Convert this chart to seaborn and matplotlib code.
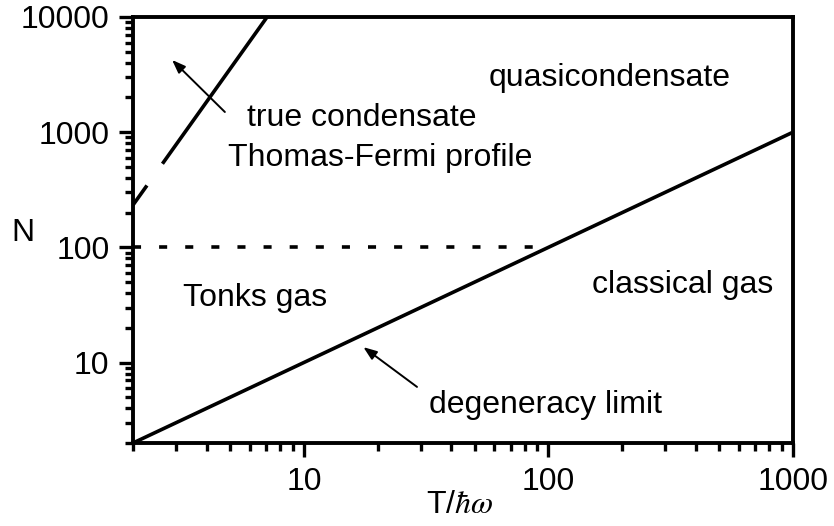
import numpy as np
import pandas as pd
import matplotlib
matplotlib.use("Agg")
import matplotlib.pyplot as plt
import matplotlib.ticker as mticker
import seaborn as sns

# ---- data ----
degen_T = [2, 1000]
degen_N = [2, 1000]
cond_T = [2, 7.07]
cond_N = [233, 10000]
tonks_T = [2, 100]
tonks_N = [100, 100]

x_ticks = [10, 100, 1000]
y_ticks = [10, 100, 1000, 10000]
x_lim = [2, 1000]
y_lim = [2, 10000]

region_labels = ["quasicondensate", "true condensate", "Thomas-Fermi profile",
                 "Tonks gas", "classical gas", "degeneracy limit"]
region_T = [178.6, 5.85, 20.5, 6.31, 355, 96.8]
region_N = [2953, 1328, 597, 36.4, 47.2, 4.29]
region_ha = ["center", "left", "center", "center", "center", "center"]

arrow_tip_T = [2.89, 17.5]
arrow_tip_N = [4236, 13.6]
arrow_tail_T = [4.75, 29.0]
arrow_tail_N = [1497, 6.14]

# ---- style ----
sns.set_theme(style="ticks")
plt.rcParams['font.family'] = ['Liberation Sans', 'DejaVu Sans']
plt.rcParams['mathtext.fontset'] = 'stix'
plt.rcParams['lines.scale_dashes'] = False
FS = 23

fig = plt.figure(figsize=(8.34, 5.26), dpi=100)
ax = fig.add_axes([133/834, 83/526, 660/834, 426/526])

lw = 2.6
df_deg = pd.DataFrame({"T": degen_T, "N": degen_N})
df_cond = pd.DataFrame({"T": cond_T, "N": cond_N})
df_tonks = pd.DataFrame({"T": tonks_T, "N": tonks_N})

sns.lineplot(data=df_deg, x="T", y="N", ax=ax, color="black", lw=lw)
sns.lineplot(data=df_cond, x="T", y="N", ax=ax, color="black", lw=lw)
ax.lines[-1].set_linestyle((0, (17.3, 19.2, 1000, 10)))
ax.lines[-1].set_dash_capstyle("butt")
sns.lineplot(data=df_tonks, x="T", y="N", ax=ax, color="black", lw=lw)
ax.lines[-1].set_linestyle((0, (5.8, 13.0)))

ax.set_xscale("log")
ax.set_yscale("log")
ax.set_xlim(*x_lim)
ax.set_ylim(*y_lim)

fmt = mticker.FuncFormatter(lambda v, _: f"{v:g}")
ax.xaxis.set_major_locator(mticker.FixedLocator(x_ticks))
ax.yaxis.set_major_locator(mticker.FixedLocator(y_ticks))
ax.xaxis.set_major_formatter(fmt)
ax.yaxis.set_major_formatter(fmt)
ax.xaxis.set_minor_locator(mticker.LogLocator(base=10, subs=np.arange(2, 10)))
ax.yaxis.set_minor_locator(mticker.LogLocator(base=10, subs=np.arange(2, 10)))
ax.xaxis.set_minor_formatter(mticker.NullFormatter())
ax.yaxis.set_minor_formatter(mticker.NullFormatter())

ax.tick_params(which="major", direction="out", length=10, width=2.4, pad=7,
               labelsize=FS, color="black", labelcolor="black")
ax.tick_params(which="minor", direction="out", length=6, width=2.4, color="black")
ax.tick_params(top=False, right=False, which="both")

for s in ax.spines.values():
    s.set_linewidth(2.8)
    s.set_color("black")
    s.set_visible(True)

ax.set_xlabel(r"T/$\hbar\omega$", fontsize=FS, color="black", va="center")
ax.xaxis.set_label_coords(0.495, -0.146)
ax.set_ylabel("N", fontsize=FS, rotation=0, color="black", va="center", ha="center")
ax.yaxis.set_label_coords(-0.167, 0.493)

for lab, t, n, ha in zip(region_labels, region_T, region_N, region_ha):
    ax.text(t, n, lab, fontsize=FS, ha=ha, va="center", color="black")

for tt, tn, at, an in zip(arrow_tip_T, arrow_tip_N, arrow_tail_T, arrow_tail_N):
    ax.annotate("", xy=(tt, tn), xytext=(at, an),
                arrowprops=dict(arrowstyle="-|>,head_length=0.8,head_width=0.3",
                                lw=1.4, color="black", shrinkA=0, shrinkB=0,
                                mutation_scale=10))

ax.set_facecolor("white")
fig.patch.set_facecolor("white")
fig.savefig("out.png", dpi=100)
